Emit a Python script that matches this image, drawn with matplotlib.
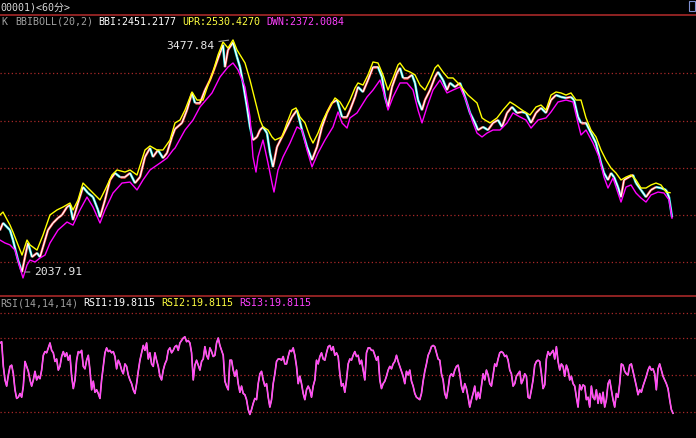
import matplotlib
matplotlib.use("Agg")
import matplotlib.pyplot as plt
from matplotlib.lines import Line2D
from matplotlib.patches import Rectangle
import numpy as np

# ---- dados (barras de 60 min) ----
close_bar = [0, 3, 10, 13, 18, 22, 25, 28, 32, 37, 40, 43, 48, 53, 58, 62, 67, 70, 73, 78,
             83, 88, 93, 98, 100, 105, 110, 115, 120, 125, 130, 135, 140, 145, 150, 153, 158, 163, 167, 172,
             175, 182, 187, 192, 195, 200, 205, 210, 215, 220, 223, 225, 228, 233, 237, 240, 243, 247, 250, 253,
             257, 260, 263, 267, 270, 273, 277, 282, 287, 292, 297, 302, 307, 312, 317, 322, 327, 332, 337, 342,
             347, 350, 355, 358, 363, 368, 373, 378, 382, 385, 388, 392, 397, 400, 403, 408, 412, 415, 418, 422,
             425, 430, 435, 438, 443, 447, 450, 455, 460, 465, 470, 475, 478, 483, 488, 493, 498, 502, 507, 512,
             517, 522, 526, 531, 536, 541, 546, 551, 556, 561, 566, 571, 574, 578, 581, 586, 591, 596, 601, 604,
             608, 611, 614, 618, 621, 624, 629, 633, 636, 641, 646, 651, 656, 661, 666, 669, 672]
close = [2298, 2342, 2298, 2236, 2112, 2038, 2131, 2218, 2131, 2156, 2131, 2193, 2298, 2342, 2373, 2392, 2441, 2454, 2361, 2466,
         2565, 2528, 2503, 2423, 2379, 2485, 2609, 2652, 2627, 2627, 2652, 2590, 2627, 2752, 2807, 2752, 2795, 2745, 2776, 2876,
         2925, 2963, 3043, 3149, 3087, 3087, 3167, 3229, 3310, 3397, 3447, 3310, 3416, 3462, 3372, 3310, 3211, 3062, 2938, 2857,
         2876, 2919, 2938, 2900, 2776, 2690, 2814, 2876, 2938, 3000, 3043, 2919, 2814, 2733, 2814, 2938, 3025, 3087, 3105, 3000,
         3000, 3043, 3124, 3186, 3155, 3229, 3310, 3310, 3248, 3124, 3062, 3186, 3273, 3304, 3242, 3242, 3261, 3211, 3105, 3043,
         3105, 3167, 3248, 3279, 3229, 3167, 3211, 3186, 3211, 3124, 3025, 2963, 2919, 2938, 2919, 2963, 2981, 2938, 3025, 3062,
         3025, 3031, 3025, 2963, 3025, 3056, 3025, 3105, 3136, 3124, 3118, 3124, 3105, 3000, 2963, 2963, 2900, 2838, 2714, 2652,
         2609, 2652, 2627, 2565, 2503, 2609, 2627, 2640, 2590, 2547, 2503, 2547, 2565, 2559, 2547, 2503, 2379]

upr_bar = [0, 3, 10, 13, 18, 22, 27, 30, 37, 43, 50, 57, 63, 70, 73, 78, 83, 90, 95, 100,
           105, 112, 117, 125, 130, 137, 145, 150, 157, 163, 170, 175, 180, 185, 192, 197, 203, 208, 213, 218,
           223, 228, 233, 237, 245, 250, 255, 260, 263, 268, 272, 275, 282, 287, 292, 296, 300, 305, 310, 313,
           318, 323, 328, 335, 340, 345, 350, 355, 358, 363, 368, 373, 378, 383, 388, 393, 398, 400, 405, 410,
           415, 420, 425, 430, 435, 438, 443, 448, 453, 460, 468, 477, 482, 485, 490, 497, 503, 510, 515, 522,
           530, 536, 541, 546, 551, 556, 561, 566, 571, 576, 581, 586, 591, 596, 601, 606, 611, 616, 621, 626,
           631, 636, 641, 646, 651, 656, 661, 666, 670]
upr = [2392, 2410, 2329, 2286, 2206, 2143, 2236, 2206, 2174, 2267, 2392, 2423, 2441, 2466, 2423, 2485, 2590, 2547, 2516, 2485,
       2547, 2640, 2671, 2658, 2671, 2640, 2795, 2820, 2795, 2795, 2857, 2963, 2981, 3043, 3155, 3105, 3105, 3198, 3279, 3385,
       3465, 3428, 3478, 3416, 3335, 3229, 3105, 2981, 2938, 2919, 2876, 2857, 2876, 2963, 3043, 3056, 3000, 2963, 2876, 2838,
       2900, 2981, 3043, 3118, 3093, 3043, 3105, 3180, 3211, 3198, 3261, 3341, 3335, 3261, 3167, 3242, 3323, 3335, 3292, 3279,
       3261, 3198, 3167, 3229, 3304, 3323, 3279, 3242, 3242, 3198, 3136, 3087, 2994, 2981, 2963, 2994, 3043, 3093, 3074, 3043,
       3012, 3062, 3074, 3043, 3136, 3155, 3149, 3136, 3149, 3105, 3105, 2994, 2919, 2876, 2795, 2733, 2683, 2652, 2609, 2627,
       2640, 2609, 2559, 2559, 2578, 2590, 2578, 2534, 2530]

dwn_bar = [0, 5, 10, 15, 20, 23, 27, 30, 35, 40, 45, 50, 58, 67, 73, 80, 87, 93, 100, 105,
           113, 122, 130, 137, 143, 150, 160, 167, 173, 175, 185, 193, 200, 212, 220, 228, 233, 238, 245, 250,
           253, 256, 258, 263, 268, 272, 274, 278, 283, 290, 297, 302, 307, 312, 318, 325, 333, 338, 342, 347,
           350, 357, 367, 373, 380, 385, 388, 393, 400, 407, 413, 418, 422, 427, 433, 440, 447, 453, 460, 467,
           472, 477, 482, 487, 493, 500, 507, 513, 520, 526, 531, 538, 546, 551, 558, 566, 573, 578, 581, 586,
           593, 599, 604, 608, 613, 618, 621, 626, 631, 636, 641, 646, 651, 658, 664, 669, 672]
dwn = [2236, 2218, 2206, 2174, 2063, 2001, 2081, 2112, 2100, 2125, 2143, 2218, 2298, 2348, 2329, 2423, 2503, 2441, 2342, 2423,
       2528, 2590, 2596, 2547, 2609, 2671, 2714, 2745, 2795, 2807, 2919, 2981, 3062, 3149, 3248, 3310, 3335, 3292, 3186, 3000,
       2752, 2658, 2752, 2857, 2714, 2590, 2534, 2671, 2752, 2838, 2938, 2919, 2795, 2690, 2776, 2857, 2938, 3031, 2963, 2931,
       2994, 3025, 3124, 3167, 3229, 3124, 3043, 3124, 3211, 3211, 3167, 3043, 2963, 3062, 3167, 3229, 3149, 3167, 3186, 3087,
       2981, 2900, 2876, 2900, 2919, 2919, 2963, 3025, 3000, 2981, 2931, 2981, 2994, 3031, 3093, 3105, 3093, 2963, 2888, 2919,
       2838, 2752, 2627, 2559, 2621, 2528, 2472, 2565, 2578, 2528, 2497, 2472, 2516, 2534, 2528, 2485, 2372]

hi_bar, hi_price = 233, 3477.84
lo_bar, lo_price = 22, 2037.91

rsi = [76, 77, 57, 46, 41, 50, 57, 58, 51, 38, 31, 32, 35, 32, 41, 61, 57, 53, 46, 41,
       46, 53, 46, 49, 47, 54, 66, 69, 68, 72, 76, 70, 68, 61, 63, 54, 57, 65, 69, 65,
       68, 62, 66, 49, 39, 46, 62, 69, 68, 70, 57, 55, 62, 66, 54, 38, 45, 36, 38, 35,
       31, 46, 57, 68, 72, 69, 70, 68, 69, 65, 55, 62, 59, 54, 51, 59, 57, 50, 46, 43,
       38, 35, 43, 53, 62, 68, 74, 70, 76, 63, 68, 59, 57, 68, 62, 57, 49, 46, 54, 59,
       62, 70, 72, 68, 70, 73, 74, 70, 76, 78, 80, 81, 77, 78, 76, 68, 46, 58, 62, 58,
       54, 61, 63, 73, 66, 63, 72, 69, 65, 66, 76, 80, 74, 70, 66, 45, 41, 38, 62, 62,
       54, 49, 54, 43, 36, 41, 35, 34, 30, 22, 18, 22, 27, 31, 30, 43, 51, 53, 46, 41,
       43, 32, 24, 30, 43, 51, 61, 63, 63, 62, 65, 59, 59, 65, 70, 69, 72, 66, 57, 43,
       49, 43, 35, 30, 38, 41, 38, 32, 41, 46, 62, 59, 65, 68, 63, 62, 68, 73, 74, 70,
       73, 66, 68, 65, 51, 41, 43, 36, 46, 59, 63, 62, 66, 69, 65, 66, 59, 62, 54, 46,
       68, 72, 72, 70, 70, 66, 62, 65, 46, 39, 43, 45, 49, 54, 57, 55, 59, 61, 66, 61,
       57, 53, 49, 43, 53, 50, 54, 45, 41, 35, 32, 31, 30, 35, 45, 53, 59, 66, 69, 73,
       74, 73, 68, 63, 62, 51, 46, 35, 31, 39, 49, 51, 49, 54, 57, 58, 51, 41, 36, 43,
       39, 32, 24, 30, 35, 41, 30, 36, 31, 41, 51, 46, 54, 50, 43, 41, 50, 59, 57, 63,
       68, 69, 68, 65, 66, 62, 54, 51, 41, 43, 49, 51, 53, 43, 46, 51, 49, 32, 31, 38,
       46, 58, 61, 62, 61, 51, 39, 42, 63, 69, 66, 68, 70, 63, 73, 61, 54, 59, 57, 49,
       58, 54, 46, 49, 43, 41, 32, 24, 42, 38, 42, 41, 30, 32, 24, 41, 32, 30, 38, 27,
       35, 27, 36, 24, 30, 43, 46, 38, 30, 24, 35, 32, 43, 59, 58, 53, 51, 50, 58, 59,
       53, 47, 41, 34, 38, 36, 41, 45, 49, 54, 57, 54, 55, 51, 38, 55, 59, 54, 49, 46,
       43, 39, 30, 22, 19]
rsi_levels = [100, 80, 50, 20]

# ---- figura ----
W, H = 696, 438
fig = plt.figure(figsize=(W / 100, H / 100), dpi=100, facecolor='black')
mono = ['DejaVu Sans Mono', 'Noto Sans CJK SC']
red = '#a82828'
gray = '#a0a0a0'
yellow = '#ffff40'
magenta = '#ff40ff'


def fy(px):
    return 1 - px / H


def label(x, y, s, color, size=7.2):
    fig.text(x / W, fy(y), s, color=color, fontsize=size, family=mono, ha='left', va='center')


# painel de precos
ax = fig.add_axes([0, fy(296), 1, (296 - 28) / H])
ax.set_facecolor('black')
ax.set_xlim(0, W)
ax.set_ylim(1889, 3552)
ax.axis('off')
for g in [3271, 2977, 2682, 2390, 2098]:
    ax.axhline(g, color=red, lw=0.9, ls=(0, (1, 2)))

# "velas" coloridas pela direcao
for i in range(len(close) - 1):
    c = '#ff4a4a' if close[i + 1] >= close[i] else '#20e8e8'
    ax.plot(close_bar[i:i + 2], close[i:i + 2], color=c, lw=1.8, solid_capstyle='butt')
ax.plot(close_bar, close, color='white', lw=0.9)
ax.plot(upr_bar, upr, color='#ffff00', lw=1.0)
ax.plot(dwn_bar, dwn, color='#ff00ff', lw=1.0)

ax.annotate(f'{hi_price:.2f}', xy=(hi_bar - 3, hi_price), xytext=(-11, -4),
            textcoords='offset points', ha='right', va='center', color='#e8e8e8',
            fontsize=8.2, family=mono,
            arrowprops=dict(arrowstyle='-', color=gray, lw=0.8, shrinkA=1, shrinkB=1))
ax.annotate(f'{lo_price:.2f}', xy=(lo_bar + 3, lo_price), xytext=(6.5, 0),
            textcoords='offset points', ha='left', va='center', color='#e8e8e8',
            fontsize=8.2, family=mono,
            arrowprops=dict(arrowstyle='-', color=gray, lw=0.8, shrinkA=1, shrinkB=0))

# painel RSI
ar = fig.add_axes([0, 0, 1, 142 / H])
ar.set_facecolor('black')
ar.set_xlim(0, W)
ar.set_ylim(-1.1, 114.1)
ar.axis('off')
for g in rsi_levels:
    ar.axhline(g, color=red, lw=0.9, ls=(0, (1, 2)))
rsi_x = np.linspace(0, 673, len(rsi))
ar.plot(rsi_x, rsi, color='#ff90d0', lw=1.2)
ar.plot(rsi_x, rsi, color=magenta, lw=0.8)

# linhas de separacao e textos
for y in [15, 295.5]:
    fig.add_artist(Line2D([0, 1], [fy(y), fy(y)], transform=fig.transFigure, color=red, lw=1.2))
fig.add_artist(Rectangle(((W - 7) / W, fy(11)), 6 / W, 10 / H, transform=fig.transFigure,
                         fill=False, edgecolor='#8090d0', lw=0.8))

label(0, 7, '00001)<60分>', '#d8d8d8')
label(1, 22, 'K', gray)
label(15, 22, 'BBIBOLL(20,2)', gray)
label(98, 22, 'BBI:2451.2177', 'white')
label(182, 22, 'UPR:2530.4270', yellow)
label(266, 22, 'DWN:2372.0084', magenta)

label(0, 303, 'RSI(14,14,14)', gray)
label(83, 303, 'RSI1:19.8115', 'white')
label(161, 303, 'RSI2:19.8115', yellow)
label(239, 303, 'RSI3:19.8115', magenta)

fig.savefig('out.png', dpi=100, facecolor='black')
